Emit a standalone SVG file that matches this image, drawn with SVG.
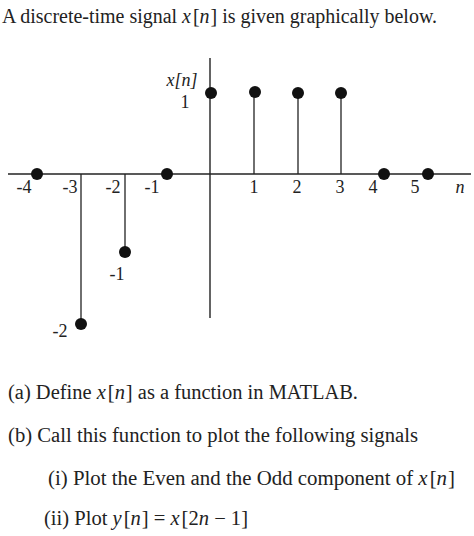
<svg xmlns="http://www.w3.org/2000/svg" width="474" height="536" viewBox="0 0 474 536">
<style>
.t{font-family:"Liberation Serif","DejaVu Serif",serif;font-size:20.5px;fill:#222}
.l{font-family:"Liberation Serif","DejaVu Serif",serif;font-size:18px;fill:#222}
.i{font-style:italic}
.ax{stroke:#222;stroke-width:1.4;fill:none}
.st{stroke:#222;stroke-width:1.3;fill:none}
.d{fill:#111}
</style>
<rect width="474" height="536" fill="#fff"/>
<text class="t" x="2" y="23" textLength="435" lengthAdjust="spacingAndGlyphs">A discrete-time signal <tspan class="i">x</tspan><tspan dx="2">[</tspan><tspan class="i">n</tspan><tspan dx="1">]</tspan> is given graphically below.</text>
<g id="axes" class="ax">
<line x1="8" y1="174" x2="471" y2="174"/>
<line x1="210" y1="58" x2="210" y2="318"/>
</g>
<g id="connectors" class="st">
<line x1="81" y1="174" x2="81" y2="324"/>
<line x1="125" y1="174" x2="125" y2="252"/>
<line x1="254" y1="174" x2="254" y2="92"/>
<line x1="298" y1="174" x2="298" y2="93"/>
<line x1="341" y1="174" x2="341" y2="93"/>
</g>
<g id="samples">
<circle class="d" cx="37" cy="174" r="6"/>
<circle class="d" cx="81" cy="324" r="6"/>
<circle class="d" cx="125" cy="252" r="6"/>
<circle class="d" cx="167" cy="174" r="6"/>
<circle class="d" cx="211" cy="93" r="6"/>
<circle class="d" cx="255" cy="92" r="6"/>
<circle class="d" cx="298" cy="93" r="6"/>
<circle class="d" cx="341" cy="93" r="6"/>
<circle class="d" cx="384" cy="174" r="6"/>
<circle class="d" cx="428" cy="174" r="6"/>
</g>
<g id="labels" class="l" text-anchor="middle">
<text x="24" y="193">-4</text>
<text x="70" y="193">-3</text>
<text x="113" y="193">-2</text>
<text x="152" y="193">-1</text>
<text x="254" y="193">1</text>
<text x="297" y="193">2</text>
<text x="340" y="193">3</text>
<text x="373" y="193">4</text>
<text x="415" y="193">5</text>
<text x="460" y="193" class="i">n</text>
<text x="182" y="86" class="i">x[n]</text>
<text x="185" y="108">1</text>
<text x="117" y="280">-1</text>
<text x="60" y="337">-2</text>
</g>
<g id="questions" class="t">
<text x="8" y="399" textLength="350" lengthAdjust="spacingAndGlyphs">(a) Define <tspan class="i">x</tspan><tspan dx="2">[</tspan><tspan class="i">n</tspan><tspan dx="1">]</tspan> as a function in MATLAB.</text>
<text x="8" y="442" textLength="410" lengthAdjust="spacingAndGlyphs">(b) Call this function to plot the following signals</text>
<text x="48" y="485" textLength="407" lengthAdjust="spacingAndGlyphs">(i) Plot the Even and the Odd component of <tspan class="i">x</tspan><tspan dx="2">[</tspan><tspan class="i">n</tspan><tspan dx="1">]</tspan></text>
<text x="44" y="525" textLength="204" lengthAdjust="spacingAndGlyphs">(ii) Plot <tspan class="i">y</tspan><tspan dx="2">[</tspan><tspan class="i">n</tspan><tspan dx="1">]</tspan> = <tspan class="i">x</tspan><tspan dx="2">[</tspan>2<tspan class="i">n</tspan> − 1]</text>
</g>
</svg>
